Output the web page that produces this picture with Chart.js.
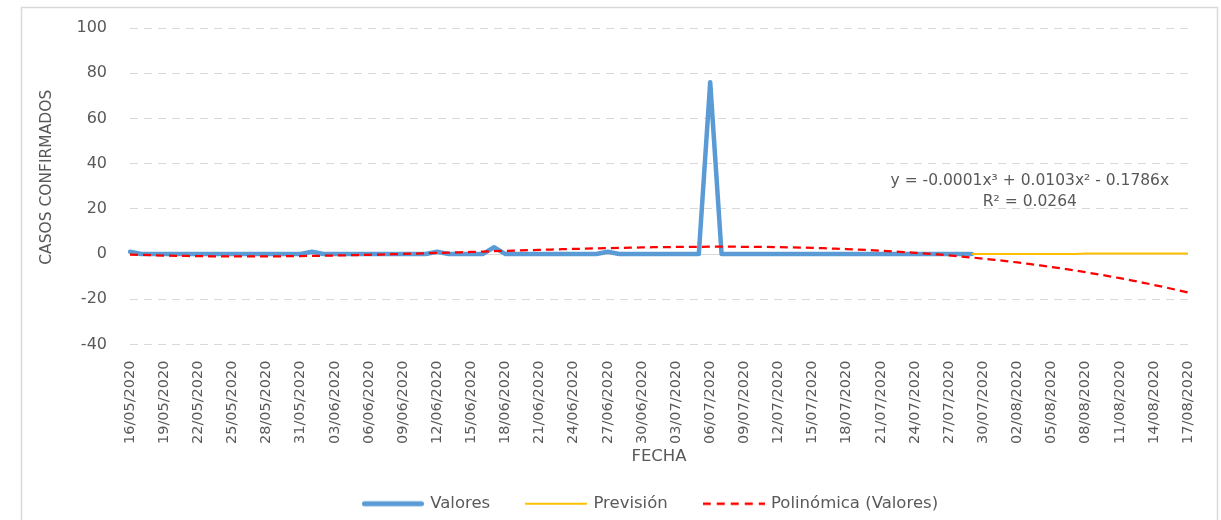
<!DOCTYPE html>
<html>
<head>
<meta charset="utf-8">
<script src="https://cdn.jsdelivr.net/npm/chart.js@4.4.1/dist/chart.umd.min.js"></script>
<style>
  html, body { margin: 0; padding: 0; background: #ffffff; }
  #wrap { width: 1221px; height: 520px; }
</style>
</head>
<body>
<div id="wrap"><canvas id="c" width="1221" height="520"></canvas></div>
<script>
const dates = [
  '16/05/2020','17/05/2020','18/05/2020','19/05/2020','20/05/2020','21/05/2020','22/05/2020','23/05/2020','24/05/2020','25/05/2020',
  '26/05/2020','27/05/2020','28/05/2020','29/05/2020','30/05/2020','31/05/2020',
  '01/06/2020','02/06/2020','03/06/2020','04/06/2020','05/06/2020','06/06/2020','07/06/2020','08/06/2020','09/06/2020','10/06/2020',
  '11/06/2020','12/06/2020','13/06/2020','14/06/2020','15/06/2020','16/06/2020','17/06/2020','18/06/2020','19/06/2020','20/06/2020',
  '21/06/2020','22/06/2020','23/06/2020','24/06/2020','25/06/2020','26/06/2020','27/06/2020','28/06/2020','29/06/2020','30/06/2020',
  '01/07/2020','02/07/2020','03/07/2020','04/07/2020','05/07/2020','06/07/2020','07/07/2020','08/07/2020','09/07/2020','10/07/2020',
  '11/07/2020','12/07/2020','13/07/2020','14/07/2020','15/07/2020','16/07/2020','17/07/2020','18/07/2020','19/07/2020','20/07/2020',
  '21/07/2020','22/07/2020','23/07/2020','24/07/2020','25/07/2020','26/07/2020','27/07/2020','28/07/2020','29/07/2020','30/07/2020',
  '31/07/2020','01/08/2020','02/08/2020','03/08/2020','04/08/2020','05/08/2020','06/08/2020','07/08/2020','08/08/2020','09/08/2020',
  '10/08/2020','11/08/2020','12/08/2020','13/08/2020','14/08/2020','15/08/2020','16/08/2020','17/08/2020'
];

// Valores (16/05 .. 29/07), then no data
const valores = [
  1,0,0,0,0,0,0,0,0,0,
  0,0,0,0,0,0,1,0,0,0,
  0,0,0,0,0,0,0,1,0,0,
  0,0,3,0,0,0,0,0,0,0,
  0,0,1,0,0,0,0,0,0,0,
  0,76,0,0,0,0,0,0,0,0,
  0,0,0,0,0,0,0,0,0,0,
  0,0,0,0,0,
  null,null,null,null,null,null,null,null,null,null,
  null,null,null,null,null,null,null,null,null
];

// Previsión (29/07 .. 17/08)
const prevision = [
  null,null,null,null,null,null,null,null,null,null,
  null,null,null,null,null,null,null,null,null,null,
  null,null,null,null,null,null,null,null,null,null,
  null,null,null,null,null,null,null,null,null,null,
  null,null,null,null,null,null,null,null,null,null,
  null,null,null,null,null,null,null,null,null,null,
  null,null,null,null,null,null,null,null,null,null,
  null,null,null,null,
  0,0,0,0,0,0,0,0,0,0,
  0.3,0.3,0.3,0.3,0.3,0.3,0.3,0.3,0.3,0.3
];

// Polinómica (Valores) trend
const polinomica = [
  -0.19,-0.36,-0.51,-0.64,-0.75,-0.84,-0.91,-0.97,-1.01,-1.03,
  -1.04,-1.03,-1.01,-0.98,-0.93,-0.87,-0.80,-0.72,-0.63,-0.53,
  -0.42,-0.31,-0.19,-0.06,0.08,0.21,0.36,0.50,0.65,0.80,
  0.96,1.11,1.26,1.41,1.57,1.71,1.86,2.00,2.14,2.28,
  2.40,2.53,2.64,2.75,2.85,2.94,3.02,3.09,3.15,3.19,
  3.23,3.25,3.26,3.25,3.23,3.19,3.13,3.06,2.97,2.86,
  2.73,2.58,2.41,2.22,2.00,1.77,1.51,1.22,0.91,0.58,
  0.21,-0.18,-0.59,-1.04,-1.51,-2.02,-2.55,-3.12,-3.72,-4.35,
  -5.01,-5.71,-6.45,-7.21,-8.02,-8.86,-9.74,-10.66,-11.61,-12.61,
  -13.65,-14.73,-15.84,-17.01
];

const seriesNames = ['Valores', 'Previsión', 'Polinómica (Valores)'];
const yTitle = 'CASOS CONFIRMADOS';
const xTitle = 'FECHA';
const trendText = ['y = -0.0001x\u00B3 + 0.0103x\u00B2 - 0.1786x', 'R\u00B2 = 0.0264'];
const trendAnchor = { index: 79.1, values: [32.4, 23.1] };

const txtColor = '#595959';
const fontFam = '"DejaVu Sans", "Liberation Sans", sans-serif';
Chart.defaults.font.family = fontFam;

// legend swatches (line samples)
function swatch(color, width, dash, cap) {
  const c = document.createElement('canvas');
  c.width = 62; c.height = 8;
  const g = c.getContext('2d');
  g.strokeStyle = color; g.lineWidth = width; g.lineCap = cap || 'butt';
  g.setLineDash(dash || []);
  g.beginPath();
  const pad = cap === 'round' ? width / 2 : 0;
  g.moveTo(pad, 4); g.lineTo(62 - pad, 4);
  g.stroke();
  return c;
}

const frame = {
  id: 'frame',
  afterLayout(chart) {
    if (chart.legend) { chart.legend.left -= 8; chart.legend.right -= 8; }
  },
  beforeDraw(chart) {
    const ctx = chart.ctx;
    ctx.save();
    ctx.fillStyle = '#ffffff';
    ctx.fillRect(0, 0, chart.width, chart.height);
    ctx.strokeStyle = '#d9d9d9';
    ctx.lineWidth = 1.5;
    ctx.strokeRect(21.5, 7.5, 1196, 530);
    ctx.restore();
  },
  afterDraw(chart) {
    const ctx = chart.ctx;
    const xs = chart.scales.x, ys = chart.scales.y;
    const x = xs.getPixelForValue(trendAnchor.index);
    ctx.save();
    ctx.fillStyle = txtColor;
    ctx.font = '15.5px ' + fontFam;
    ctx.textAlign = 'center';
    ctx.textBaseline = 'middle';
    ctx.fillText(trendText[0], x, ys.getPixelForValue(trendAnchor.values[0]));
    ctx.fillText(trendText[1], x, ys.getPixelForValue(trendAnchor.values[1]));
    // vertical axis title
    ctx.translate(47, ys.getPixelForValue(34));
    ctx.rotate(-Math.PI / 2);
    ctx.fillText(yTitle, 0, 0);
    ctx.restore();
  }
};

new Chart(document.getElementById('c'), {
  type: 'line',
  data: {
    labels: dates,
    datasets: [
      { label: seriesNames[0], data: valores, borderColor: '#5B9BD5', backgroundColor: '#5B9BD5',
        borderWidth: 4.5, pointRadius: 0, borderJoinStyle: 'round', borderCapStyle: 'round', order: 3,
        pointStyle: swatch('#5B9BD5', 5, [], 'round') },
      { label: seriesNames[1], data: prevision, borderColor: '#FFC000', backgroundColor: '#FFC000',
        borderWidth: 2, pointRadius: 0, order: 2,
        pointStyle: swatch('#FFC000', 2, []) },
      { label: seriesNames[2], data: polinomica, borderColor: '#FF0000', backgroundColor: '#FF0000',
        borderWidth: 2.25, borderDash: [8, 5], pointRadius: 0, order: 1,
        pointStyle: swatch('#FF0000', 2.5, [8, 6]) }
    ]
  },
  options: {
    responsive: false,
    animation: false,
    layout: { padding: { left: 22, right: 33, top: 28, bottom: -2 } },
    plugins: {
      legend: {
        position: 'bottom',
        fullSize: false,
        labels: {
          usePointStyle: true, pointStyleWidth: 58,
          padding: 37, color: txtColor, font: { size: 16.5, family: fontFam },
          sort: (a, b) => a.datasetIndex - b.datasetIndex
        }
      },
      tooltip: { enabled: false }
    },
    scales: {
      x: {
        grid: { display: false },
        border: { display: false },
        ticks: {
          autoSkip: false, minRotation: 90, maxRotation: 90, padding: 8,
          color: txtColor, font: { size: 14.5, family: fontFam },
          callback: (v, i) => (i % 3 === 0 ? dates[i] : null)
        },
        title: { display: true, text: xTitle, color: txtColor, font: { size: 16.5, family: fontFam }, padding: { top: 0, bottom: -8 } },
        afterFit: (s) => { s.height = 114; }
      },
      y: {
        min: -40, max: 100,
        ticks: { stepSize: 20, padding: 4, color: txtColor, font: { size: 16, family: fontFam } },
        grid: { color: '#d9d9d9', lineWidth: 1, drawTicks: true, tickLength: 19, tickColor: 'rgba(0,0,0,0)' },
        border: { display: false, dash: (ctx) => (ctx.tick && ctx.tick.value === 0 ? [] : [8, 6]) },
        title: { display: false },
        afterFit: (s) => { s.width = 108; }
      }
    }
  },
  plugins: [frame]
});
</script>
</body>
</html>
